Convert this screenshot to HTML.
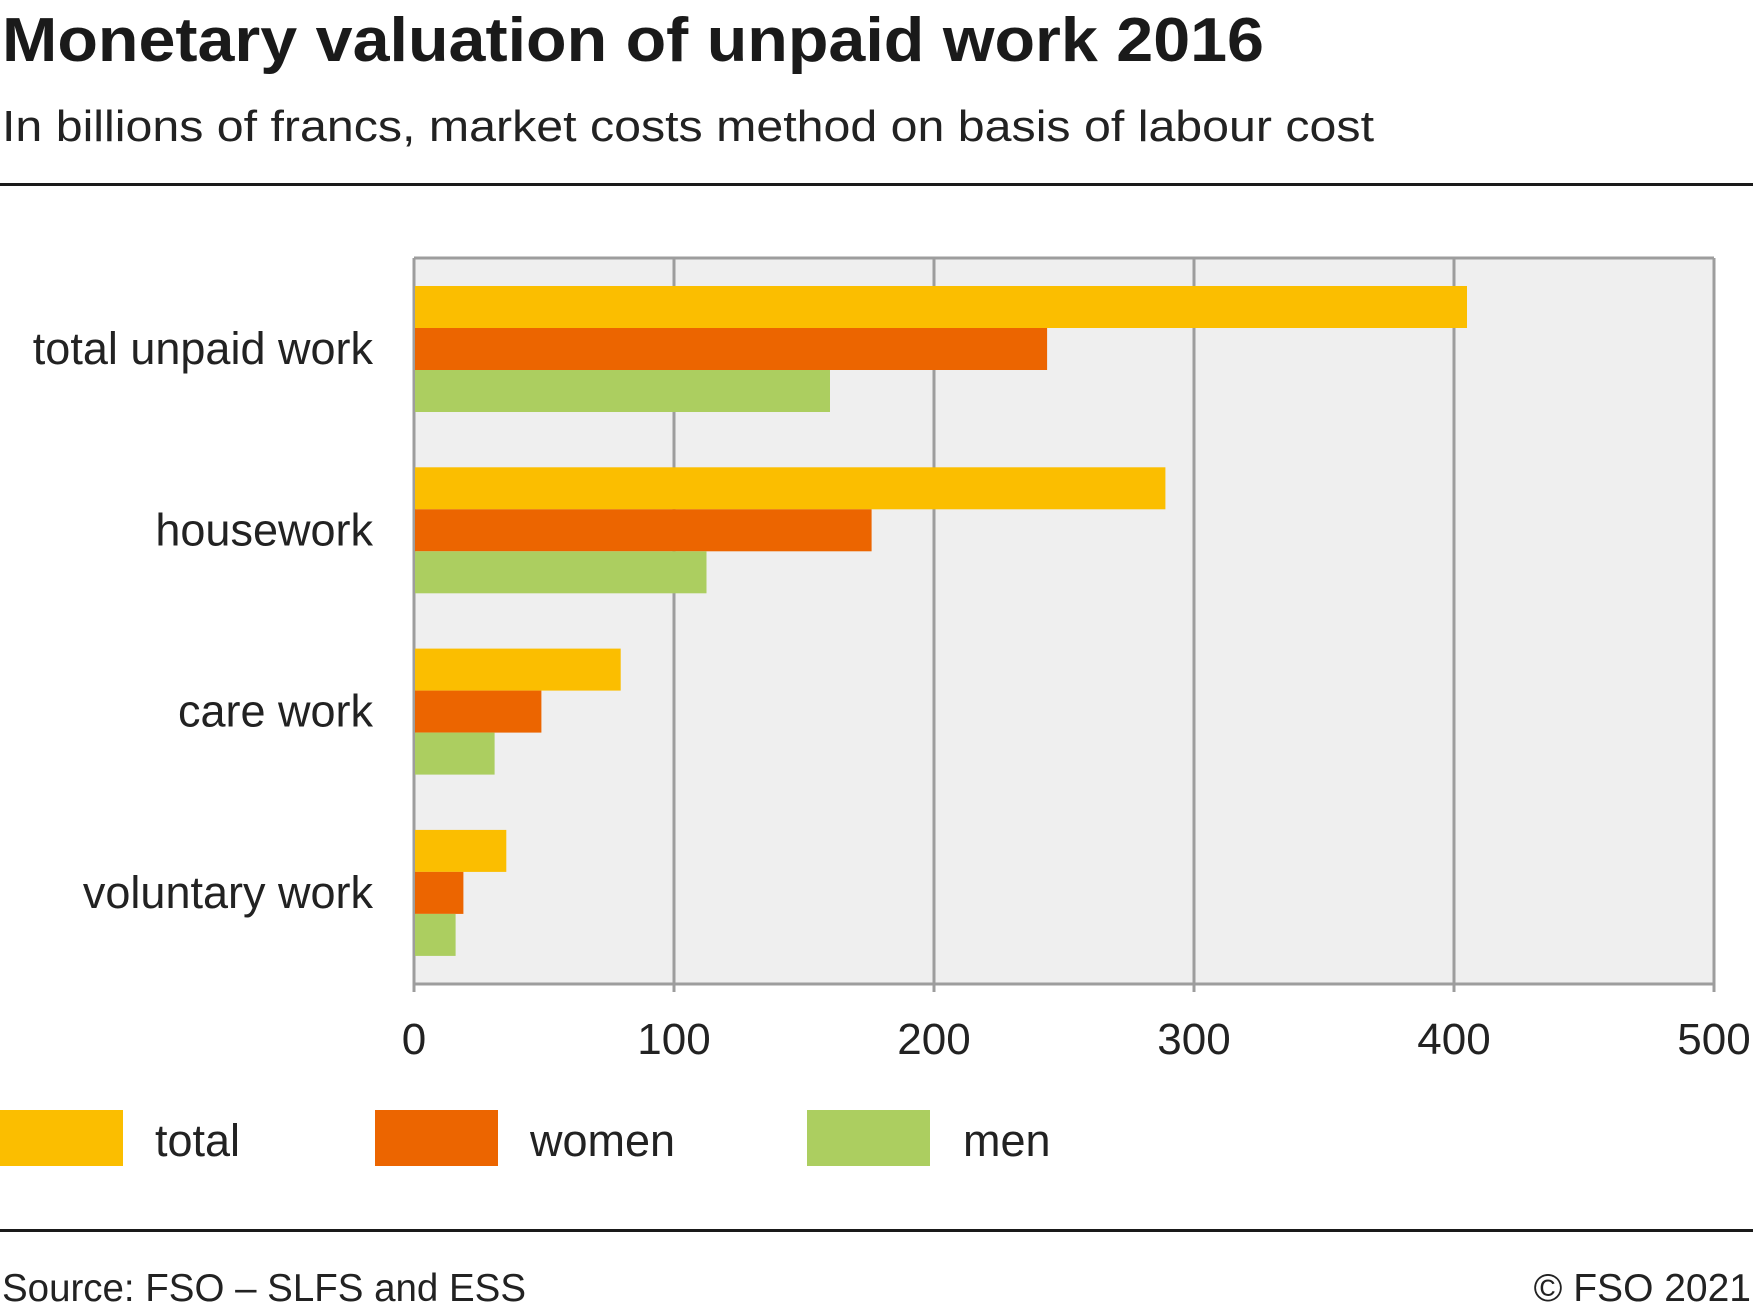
<!DOCTYPE html>
<html><head><meta charset="utf-8"><style>
html,body{margin:0;padding:0;background:#fff;}
svg{display:block;font-family:"Liberation Sans",sans-serif;}
</style></head><body>
<svg id="chart" width="1753" height="1313" viewBox="0 0 1753 1313">
<text x="2" y="61" font-size="62" font-weight="bold" fill="#1a1a1a" textLength="1262" lengthAdjust="spacingAndGlyphs">Monetary valuation of unpaid work 2016</text>
<text x="2" y="141" font-size="44" fill="#222" textLength="1372" lengthAdjust="spacingAndGlyphs">In billions of francs, market costs method on basis of labour cost</text>
<rect x="0" y="183" width="1753" height="3" fill="#1a1a1a"/>
<g id="plot"></g>
<rect x="0" y="1229" width="1753" height="3" fill="#1a1a1a"/>
<text x="2" y="1301" font-size="39" fill="#222" textLength="524" lengthAdjust="spacingAndGlyphs">Source: FSO – SLFS and ESS</text>
<text x="1751" y="1301" font-size="39" fill="#222" text-anchor="end">© FSO 2021</text>
</svg>
<script>
const categories = ["total unpaid work","housework","care work","voluntary work"];
const totalValues = [405, 289, 79.5, 35.5];
const womenValues = [243.5, 176, 49, 19];
const menValues = [160, 112.5, 31, 16];
const tickValues = [0,100,200,300,400,500];
const seriesNames = ["total","women","men"];
const seriesColors = ["#fbbe00","#ec6500","#acce60"];

const NS="http://www.w3.org/2000/svg";
const g=document.getElementById('plot');
const L=414,R=1714,T=258,B=984,xMax=500;
const xs=v=>L+(R-L)*v/xMax;
const groupTop=i=>286+i*181.3;
const barH=42;
function mk(tag,attrs,parent){const e=document.createElementNS(NS,tag);for(const k in attrs)e.setAttribute(k,attrs[k]);(parent||g).appendChild(e);return e;}
const bg=mk('rect',{x:L,y:T,width:R-L,height:B-T,fill:'#efefef'});


tickValues.forEach(t=>{
  const gl=mk('line',{x1:xs(t),x2:xs(t),y1:T,y2:B+8,stroke:'#9d9d9d','stroke-width':3});
  
  
  const tl=mk('text',{x:xs(t),y:1054,'font-size':44,fill:'#222','text-anchor':'middle'});
  tl.textContent=t;
  
  
});
const topBorder=mk('line',{x1:L,x2:R,y1:T,y2:T,stroke:'#9d9d9d','stroke-width':3});


const ax=mk('line',{x1:L,x2:R,y1:B,y2:B,stroke:'#9d9d9d','stroke-width':3});


const series=[totalValues,womenValues,menValues];
categories.forEach((c,i)=>{
  series.forEach((vals,s)=>{
    const r=mk('rect',{x:xs(0)+1,y:groupTop(i)+s*barH,width:xs(vals[i])-xs(0)-1,height:barH,fill:seriesColors[s]});
    
    
  });
  const lb=mk('text',{x:373,y:groupTop(i)+barH*1.5+15,'font-size':45,fill:'#222','text-anchor':'end'});
  lb.textContent=c;
  
  
});
const legX=[0,375,807], legTX=[155,530,963];
seriesNames.forEach((n,s)=>{
  const sw=mk('rect',{x:legX[s],y:1110,width:123,height:56,fill:seriesColors[s]});
  
  
  const t=mk('text',{x:legTX[s],y:1156,'font-size':45,fill:'#222'});
  t.textContent=n;
  
  
});
</script>
</body></html>
